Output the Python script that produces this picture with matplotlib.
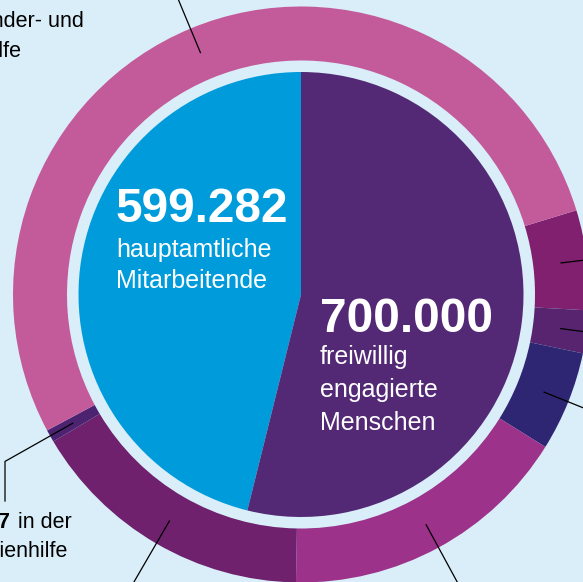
import numpy as np
import matplotlib.pyplot as plt

plt.rcParams['font.family'] = ['Liberation Sans', 'DejaVu Sans']

# inner pie: paid staff vs. volunteers
inner_values = [599282, 700000]
inner_colors = ["#009BDB", "#532976"]

# outer ring, shares in percent, clockwise starting at the upper right
ring_shares = [5.6, 2.4, 5.6, 16.4, 16.2, 0.7, 53.1]
ring_colors = ["#80206E", "#582470", "#2E2673", "#9C328A", "#6F216E", "#4B2370", "#C35B9B"]

bg = "#D9EEF9"
W, H = 583, 582
cx, cy = 301, H - 294.5

fig = plt.figure(figsize=(5.83, 5.82), dpi=100)
fig.patch.set_facecolor(bg)
ax = fig.add_axes([0, 0, 1, 1])
ax.set_facecolor(bg)

ring, _ = ax.pie(ring_shares, colors=ring_colors, startangle=17, counterclock=False,
                 radius=288, center=(cx, cy), wedgeprops=dict(width=54, linewidth=0))
ax.pie(inner_values, colors=inner_colors, startangle=90, counterclock=True,
       radius=222.5, center=(cx, cy), wedgeprops=dict(linewidth=0))

# leader lines, radial from the middle of each ring segment
for i, w in enumerate(ring):
    a = np.deg2rad((w.theta1 + w.theta2) / 2)
    x0, y0 = cx + 262 * np.cos(a), cy + 262 * np.sin(a)
    if i == 5:
        r1 = (5 - cx) / np.cos(a)
        x1, y1 = 5, cy + r1 * np.sin(a)
        ax.plot([x0, x1, x1], [y0, y1, H - 501], color='black', lw=0.9)
    else:
        ax.plot([x0, cx + 420 * np.cos(a)], [y0, cy + 420 * np.sin(a)], color='black', lw=0.9)

# numbers inside the pie
big, small = 34.5, 18
ax.text(116, H - 222, "599.282", color='white', fontsize=big, fontweight='bold')
ax.text(116, H - 257, "hauptamtliche", color='white', fontsize=small)
ax.text(116, H - 288, "Mitarbeitende", color='white', fontsize=small)

ax.text(320, H - 332, "700.000", color='white', fontsize=big, fontweight='bold')
ax.text(320, H - 364, "freiwillig", color='white', fontsize=small)
ax.text(320, H - 397, "engagierte", color='white', fontsize=small)
ax.text(320, H - 430, "Menschen", color='white', fontsize=small)

# labels at the edge (mostly cut off)
lab = 15.5
ax.text(84, H - 27, "in der Kinder- und", fontsize=lab, ha='right')
ax.text(22, H - 57, "Jugendhilfe", fontsize=lab, ha='right')

ax.text(11, H - 527.5, "1.237", fontsize=lab, fontweight='bold', ha='right')
ax.text(18, H - 527.5, "in der", fontsize=lab)
ax.text(68, H - 557, "Familienhilfe", fontsize=lab, ha='right')

ax.set_xlim(0, W)
ax.set_ylim(0, H)
ax.set_aspect('auto')
ax.axis('off')

fig.savefig("out.png", dpi=100, facecolor=bg)
